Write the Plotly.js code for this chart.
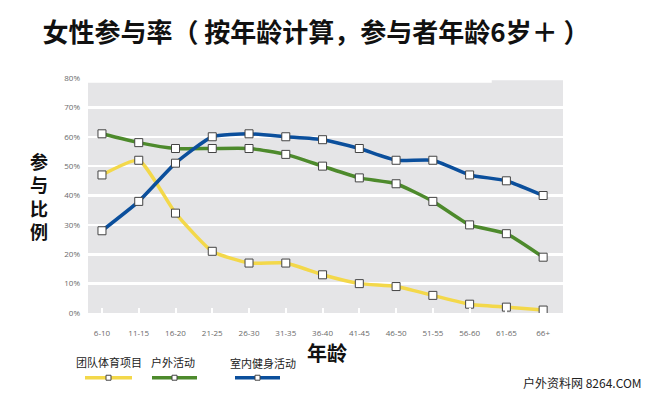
<!DOCTYPE html>
<html>
<head>
<meta charset="utf-8">
<script src="https://cdn.plot.ly/plotly-3.0.1.min.js"></script>
<style>html,body{margin:0;padding:0;background:#fff;}#chart{width:650px;height:394px;}</style>
</head>
<body>
<div id="chart"></div>
<script>
const ageGroups = ["6-10","11-15","16-20","21-25","26-30","31-35","36-40","41-45","46-50","51-55","56-60","61-65","66+"];
const teamSports = [47,52,34,21,17,17,13,10,9,6,3,2,1];
const outdoor = [61,58,56,56,56,54,50,46,44,38,30,27,19];
const indoorFitness = [28,38,51,60,61,60,59,56,52,52,47,45,40];
const seriesNames = ["团队体育项目","户外活动","室内健身活动"];
const yTickVals = [0,10,20,30,40,50,60,70,80];
const yTickText = ["0%","10%","20%","30%","40%","50%","60%","70%","80%"];
const titleText = "女性参与率（ 按年龄计算，参与者年龄6岁＋ ）";
const yTitleText = "参与比例";
const xTitleText = "年龄";
const watermark = "户外资料网 8264.COM";

const colors = ["#f3d84a","#4d8a2c","#0b4f9c"];
const seriesData = [teamSports, outdoor, indoorFitness];

const traces = seriesData.map((vals, i) => ({
  type: "scatter",
  mode: "lines+markers",
  x: ageGroups,
  y: vals,
  name: seriesNames[i],
  line: {color: colors[i], width: 3.5, shape: "spline", smoothing: 0.5},
  marker: {symbol: "square", size: 8, color: "#ffffff", line: {color: "#444444", width: 1}},
  hoverinfo: "none"
}));

const shapes = [
  {type: "rect", xref: "paper", yref: "y", x0: 0, x1: 1, y0: 0, y1: 78.4, fillcolor: "#e5e5e7", line: {width: 0}, layer: "below"},
  {type: "rect", xref: "paper", yref: "y", x0: 0.85, x1: 1, y0: 78, y1: 79.2, fillcolor: "#e5e5e7", line: {width: 0}, layer: "below"}
];

const annotations = [
  {xref: "paper", yref: "paper", x: (327-88)/475, y: (394-353-81)/236, xanchor: "center", yanchor: "middle", showarrow: false,
   text: "<b>" + xTitleText + "</b>", font: {family: "Noto Sans CJK SC", size: 20, color: "#111"}},
  {xref: "paper", yref: "paper", x: (582-88)/475, y: (394-383-81)/236, xanchor: "center", yanchor: "middle", showarrow: false,
   text: watermark, font: {family: "Noto Sans CJK SC", size: 12, color: "#222"}},
  {xref: "paper", yref: "paper", x: (39-88)/475, y: (394-196-81)/236, xanchor: "center", yanchor: "middle", showarrow: false,
   text: "<b>" + yTitleText.split("").join("<br>") + "</b>", font: {family: "Noto Sans CJK SC", size: 18, color: "#111"}}
];

// custom legend
const legText = [[109,362],[173,362],[263,363]];
const legLine = [[85,132],[152,197],[235,280]];
seriesNames.forEach((n, i) => {
  annotations.push({xref: "paper", yref: "paper", x: (legText[i][0]-88)/475, y: (394-legText[i][1]-81)/236, xanchor: "center", yanchor: "middle", showarrow: false,
    text: n, font: {family: "Noto Sans CJK SC", size: 11, color: "#222"}});
  const y = (394-378-81)/236;
  shapes.push({type: "line", xref: "paper", yref: "paper", x0: (legLine[i][0]-88)/475, x1: (legLine[i][1]-88)/475, y0: y, y1: y,
    line: {color: colors[i], width: 3.5}});
  const cx = ((legLine[i][0]+legLine[i][1])/2 - 88)/475;
  shapes.push({type: "rect", xref: "paper", yref: "paper", x0: cx - 2.5/475, x1: cx + 2.5/475, y0: y - 2.5/236, y1: y + 2.5/236,
    fillcolor: "#ffffff", line: {color: "#444", width: 1}});
});

const layout = {
  width: 650, height: 394,
  margin: {l: 88, r: 87, t: 77.5, b: 81},
  paper_bgcolor: "#ffffff",
  plot_bgcolor: "rgba(0,0,0,0)",
  showlegend: false,
  title: {text: "<b>" + titleText + "</b>", x: 316/650, xanchor: "center", y: 1 - 33/394, yanchor: "middle",
    font: {family: "Noto Sans CJK SC", size: 26, color: "#111"}},
  xaxis: {
    type: "category", range: [-0.38, 12.54], showgrid: false, zeroline: false, showline: false,
    ticks: "inside", ticklen: 5, tickwidth: 2, tickcolor: "#ffffff", ticklabelstandoff: 14,
    tickfont: {family: "Open Sans", size: 8, color: "#6a6a6a"}, fixedrange: true
  },
  yaxis: {
    range: [0, 80], tickvals: yTickVals, ticktext: yTickText, showgrid: true, gridcolor: "#ffffff", gridwidth: 2.5,
    zeroline: false, showline: false, ticks: "", ticklabelstandoff: 7,
    tickfont: {family: "Open Sans", size: 8, color: "#6a6a6a"}, fixedrange: true
  },
  shapes: shapes,
  annotations: annotations
};

Plotly.newPlot("chart", traces, layout, {displayModeBar: false, staticPlot: true});
</script>
</body>
</html>
